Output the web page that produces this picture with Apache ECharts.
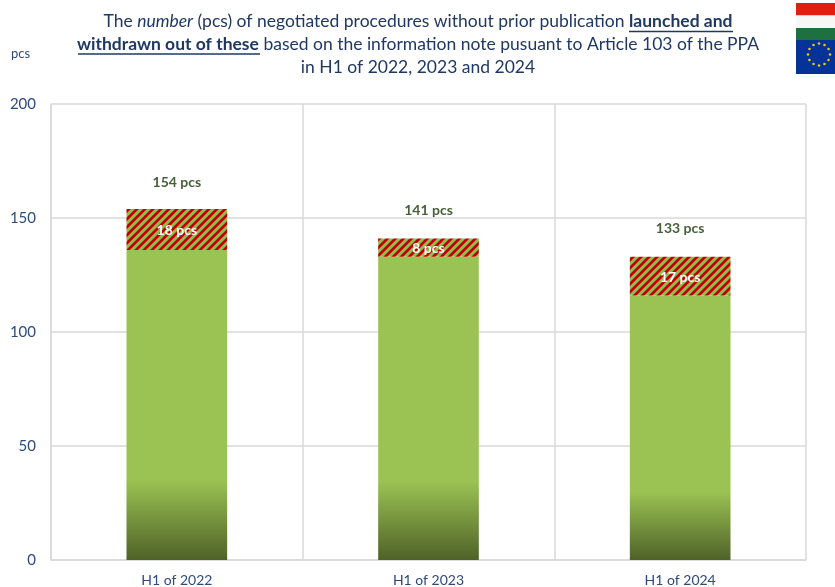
<!DOCTYPE html>
<html><head><meta charset="utf-8">
<style>html,body{margin:0;padding:0;background:#fff}#c{width:835px;height:587px}</style>
<script src="https://cdn.jsdelivr.net/npm/echarts@6/dist/echarts.min.js"></script>
</head><body><div id="c"></div>
<script>
const categories = ['H1 of 2022', 'H1 of 2023', 'H1 of 2024'];
const launchedRest = [136, 133, 116];
const withdrawn = [18, 8, 17];
const totals = [154, 141, 133];

const NAVY = '#1F3864', TXT = '#2F4A7D', GREEN = '#9BC353', DARK = '#4F6228', RED = '#C00000';
const FONT = 'Lato';

function hatch() {
  const n = 8, cv = document.createElement('canvas');
  cv.width = cv.height = n;
  const g = cv.getContext('2d');
  for (let y = 0; y < n; y++) for (let x = 0; x < n; x++) {
    const k = (x + y) % n;
    g.fillStyle = k < 3 ? RED : (k === 3 || k === 7) ? '#AE6A2C' : '#93BC4E';
    g.fillRect(x, y, 1, 1);
  }
  return cv;
}

const stars = [];
for (let i = 0; i < 12; i++) {
  const a = i * Math.PI / 6;
  stars.push({ type: 'circle', shape: { cx: 819 + 11 * Math.cos(a), cy: 54.5 + 11 * Math.sin(a), r: 1.3 }, style: { fill: '#F5C400' }, silent: true });
}

const chart = echarts.init(document.getElementById('c'), null, { renderer: 'canvas' });
const ln = (x1, x2, y) => ({ type: 'line', shape: { x1, y1: y, x2, y2: y }, style: { stroke: NAVY, lineWidth: 1.5 }, silent: true });
const titleRich = {
  n: { fontFamily: FONT, fontSize: 17.5, color: NAVY, fontWeight: 'normal' },
  i: { fontFamily: FONT, fontSize: 17.5, color: NAVY, fontStyle: 'italic', fontWeight: 'normal' },
  b: { fontFamily: FONT, fontSize: 17.5, color: NAVY, fontWeight: 'bold' }
};
const ts = { rich: titleRich, fontFamily: FONT, fontWeight: 'normal' };
chart.setOption({
  animation: false,
  backgroundColor: '#fff',
  title: [
    { text: '{n|The }{i|number}{n| (pcs) of negotiated procedures without prior publication }{b|launched and}', left: 418, top: 12, textAlign: 'center', textStyle: ts, padding: 0 },
    { text: '{b|withdrawn out of these}{n| based on the information note pusuant to Article 103 of the PPA}', left: 418, top: 35, textAlign: 'center', textStyle: ts, padding: 0 },
    { text: '{n|in H1 of 2022, 2023 and 2024}', left: 418, top: 58, textAlign: 'center', textStyle: ts, padding: 0 },
    { text: 'pcs', left: 11, top: 47, padding: 0, textStyle: { fontFamily: FONT, fontSize: 13, fontWeight: 'normal', color: TXT } }
  ],
  grid: { left: 51, right: 29, top: 104, bottom: 27, containLabel: false },
  xAxis: {
    type: 'category', data: categories,
    axisLine: { show: true, lineStyle: { color: '#D9D9D9', width: 1.5 } },
    axisTick: { show: false },
    axisLabel: { fontFamily: FONT, fontSize: 14, color: TXT, margin: 13 },
    splitLine: { show: true, lineStyle: { color: '#D9D9D9', width: 1.5 } }
  },
  yAxis: {
    type: 'value', min: 0, max: 200, interval: 50,
    axisLine: { show: true, lineStyle: { color: '#D9D9D9', width: 1.5 } },
    axisTick: { show: false },
    axisLabel: { fontFamily: FONT, fontSize: 15, color: TXT, margin: 15 },
    splitLine: { show: true, lineStyle: { color: '#D9D9D9', width: 1.5 } }
  },
  series: [
    {
      name: 'Launched, not withdrawn', type: 'bar', stack: 'a', barWidth: '40%', data: launchedRest,
      itemStyle: { color: new echarts.graphic.LinearGradient(0, 0, 0, 1, [
        { offset: 0, color: GREEN }, { offset: 0.74, color: GREEN }, { offset: 1, color: DARK }]) }
    },
    {
      name: 'Withdrawn', type: 'bar', stack: 'a', barWidth: '40%', data: withdrawn,
      itemStyle: { color: { image: hatch(), repeat: 'repeat' } },
      label: { show: true, position: 'inside', offset: [0, 1], formatter: '{c} pcs', fontFamily: FONT, fontSize: 14, fontWeight: 'bold', color: '#fff', textBorderWidth: 0 }
    },
    {
      name: 'Total', type: 'line', symbol: 'circle', symbolSize: 1, showSymbol: true,
      data: totals.map((v, i) => ({ value: v, label: { distance: i ? 21 : 19 } })),
      itemStyle: { color: 'rgba(0,0,0,0)' }, lineStyle: { width: 0, color: 'rgba(0,0,0,0)' }, z: 5,
      label: { show: true, position: 'top', formatter: '{c} pcs', fontFamily: FONT, fontSize: 14, fontWeight: 'bold', color: '#47603A', textBorderWidth: 0 }
    }
  ],
  graphic: [
    ln(629, 733, 31.5), ln(78, 260, 54),
    { type: 'rect', shape: { x: 796, y: 3, width: 39, height: 12.5 }, style: { fill: '#DD2010' }, silent: true },
    { type: 'rect', shape: { x: 796, y: 15.5, width: 39, height: 12.5 }, style: { fill: '#F7F7F7' }, silent: true },
    { type: 'rect', shape: { x: 796, y: 28, width: 39, height: 12 }, style: { fill: '#1E7040' }, silent: true },
    { type: 'rect', shape: { x: 796, y: 40, width: 39, height: 34 }, style: { fill: '#033399' }, silent: true },
    ...stars
  ]
});
</script></body></html>
